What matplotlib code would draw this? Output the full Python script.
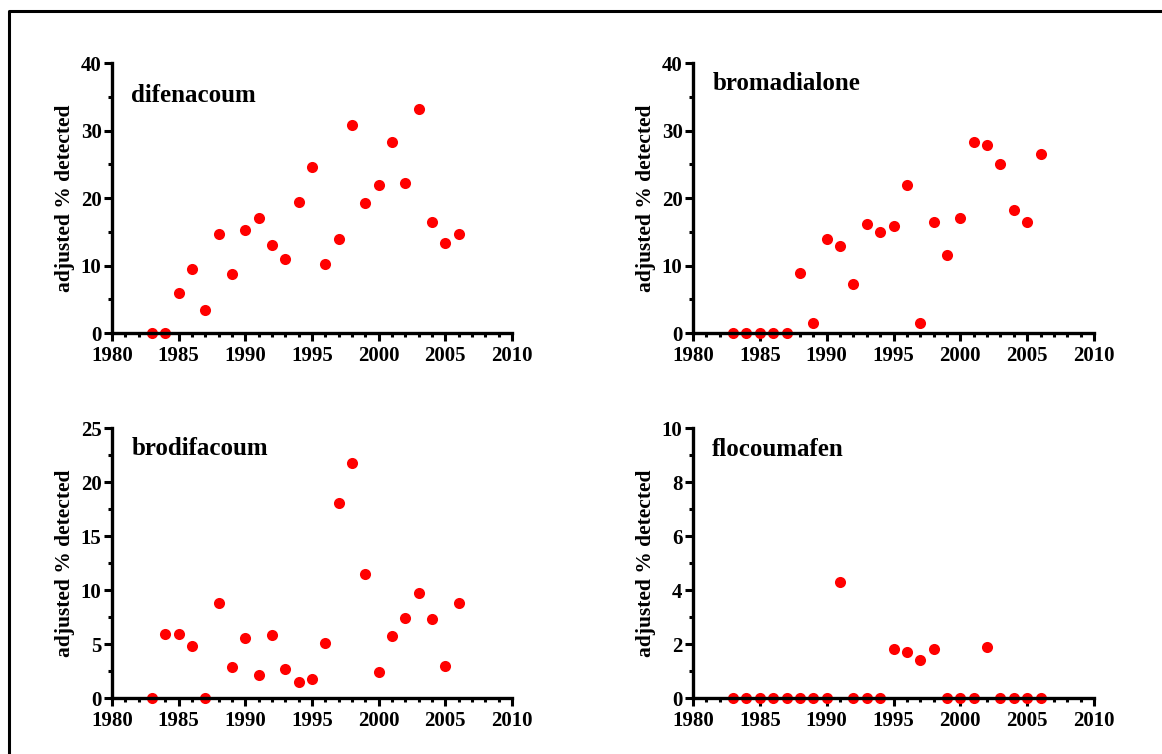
import matplotlib
matplotlib.use("Agg")
import matplotlib.pyplot as plt
from matplotlib.lines import Line2D
from matplotlib.ticker import MultipleLocator

plt.rcParams["font.family"] = ["Liberation Serif", "DejaVu Serif"]
plt.rcParams["font.weight"] = "bold"

years = list(range(1983, 2007))

difenacoum = [0, 0, 6.0, 9.5, 3.4, 14.7, 8.7, 15.3, 17.0, 13.0, 10.9, 19.4,
              24.6, 10.2, 13.9, 30.8, 19.2, 22.0, 28.3, 22.2, 33.2, 16.4, 13.4, 14.7]
bromadialone = [0, 0, 0, 0, 0, 8.9, 1.5, 13.9, 12.9, 7.2, 16.2, 14.9,
                15.8, 22.0, 1.5, 16.4, 11.6, 17.1, 28.3, 27.8, 25.0, 18.2, 16.4, 26.5]
brodifacoum = [0, 5.9, 5.9, 4.8, 0, 8.8, 2.9, 5.6, 2.1, 5.8, 2.7, 1.5,
               1.8, 5.1, 18.1, 21.8, 11.5, 2.4, 5.7, 7.4, 9.7, 7.3, 3.0, 8.8]
flocoumafen = [0, 0, 0, 0, 0, 0, 0, 0, 4.3, 0, 0, 0,
               1.8, 1.7, 1.4, 1.8, 0, 0, 0, 1.9, 0, 0, 0, 0]

panels = [
    ("difenacoum", difenacoum, 40, 10),
    ("bromadialone", bromadialone, 40, 10),
    ("brodifacoum", brodifacoum, 25, 5),
    ("flocoumafen", flocoumafen, 10, 2),
]

W, H = 1162, 754
fig = plt.figure(figsize=(W / 100, H / 100), dpi=100)

# axes boxes in pixels: left, top, right, bottom
boxes = [(112, 63, 512, 333), (693, 63, 1094, 333),
         (112, 428, 512, 698), (693, 428, 1094, 698)]
title_y = [0.856, 0.9, 0.9, 0.896]

for (name, vals, ymax, step), (l, t, r, b), ty in zip(panels, boxes, title_y):
    ax = fig.add_axes([l / W, 1 - b / H, (r - l) / W, (b - t) / H])
    ax.plot(years, vals, "o", color="#ff0000", markersize=8, markeredgewidth=0,
            clip_on=False, zorder=2)
    ax.set_xlim(1980, 2010)
    ax.set_ylim(0, ymax)
    ax.xaxis.set_major_locator(MultipleLocator(5))
    ax.xaxis.set_minor_locator(MultipleLocator(1))
    ax.yaxis.set_major_locator(MultipleLocator(step))
    ax.yaxis.set_minor_locator(MultipleLocator(step / 2))
    for side in ("top", "right"):
        ax.spines[side].set_visible(False)
    for side in ("left", "bottom"):
        ax.spines[side].set_linewidth(2.4)
        ax.spines[side].set_zorder(3)
    ax.tick_params(which="major", length=5.5, width=2.2, labelsize=15, pad=2)
    ax.tick_params(which="minor", length=3, width=2.2)
    ax.tick_params(axis="x", which="major", pad=4)
    for lab in ax.get_xticklabels() + ax.get_yticklabels():
        lab.set_fontweight("bold")
    ax.set_ylabel("adjusted % detected", fontsize=15.5, fontweight="bold", labelpad=4)
    ax.text(0.048, ty, name, transform=ax.transAxes, fontsize=18,
            fontweight="bold", ha="left", va="baseline")

# partial frame (left and top edges)
fx = 9 / W
fy = 1 - 11.3 / H
fig.add_artist(Line2D([fx, fx, 1.0], [0.0, fy, fy], color="black",
                      linewidth=2.2, transform=fig.transFigure))

fig.savefig("out.png", dpi=100)
